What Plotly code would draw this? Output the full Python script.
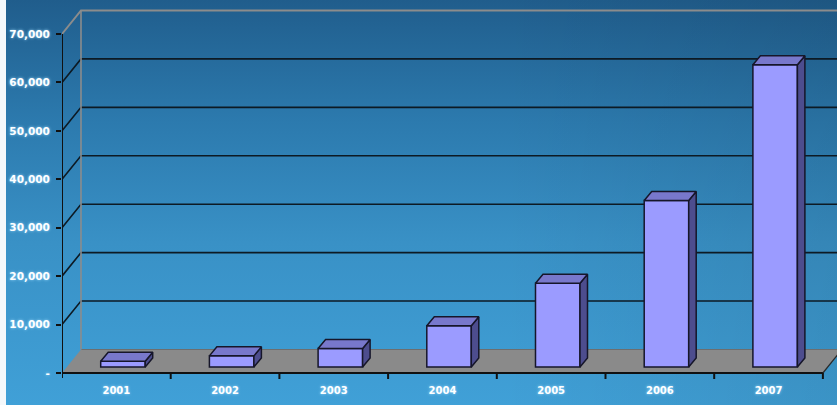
import base64
import plotly.graph_objects as go

# ---------------- data ----------------
years = ["2001", "2002", "2003", "2004", "2005", "2006", "2007"]
values = [1200, 2300, 3800, 8500, 17300, 34400, 62400]
ytick_vals = [0, 10000, 20000, 30000, 40000, 50000, 60000, 70000]
ytick_text = ["-", "10,000", "20,000", "30,000", "40,000", "50,000", "60,000", "70,000"]

# ---------------- geometry (pixel-based styling constants) ----------------
W, H = 837, 405
ML, MR, MT, MB = 62, 0, 3, 22
CAT_PX = 108.7                 # pixels per category
UNIT_PER_PX = 10000 / 48.43    # value units per pixel
ZERO_PX = 373                  # pixel row of value 0 on the front plane

def px_x(p):
    return p / CAT_PX

def px_y(p):
    return p * UNIT_PER_PX

DX, DY = px_x(19), px_y(23.5)            # wall depth
BXS, BY = px_x(6.6), px_y(6)             # bar front offset inside the floor
BDX, BDY = px_x(7.5), px_y(9)            # bar depth
BW = px_x(44.5)                          # bar width
N = len(years)

plot_w = W - ML - MR
plot_h = H - MT - MB
x_range = [0, plot_w / CAT_PX]
y_range = [-(H - MB - ZERO_PX) * UNIT_PER_PX, (ZERO_PX - MT) * UNIT_PER_PX]

# ---------------- background gradient ----------------
svg = (
    f'<svg xmlns="http://www.w3.org/2000/svg" width="{W}" height="{H}" '
    f'viewBox="0 0 {W} {H}" preserveAspectRatio="none">'
    '<defs><linearGradient id="g" x1="0" y1="0" x2="0" y2="1">'
    '<stop offset="0" stop-color="#205d8c"/>'
    '<stop offset="0.3" stop-color="#2c7aae"/>'
    '<stop offset="0.6" stop-color="#3991c6"/>'
    '<stop offset="1" stop-color="#40a0d7"/>'
    '</linearGradient>'
    '<linearGradient id="h" x1="0" y1="0" x2="1" y2="0">'
    '<stop offset="0" stop-color="#000" stop-opacity="0"/>'
    '<stop offset="0.6" stop-color="#000" stop-opacity="0"/>'
    '<stop offset="1" stop-color="#000" stop-opacity="0.08"/>'
    '</linearGradient></defs>'
    f'<rect width="{W}" height="{H}" fill="url(#g)"/>'
    f'<rect width="{W}" height="{H}" fill="url(#h)"/>'
    f'<rect width="6" height="{H}" fill="#f4f8fb"/>'
    '</svg>'
)
bg_uri = "data:image/svg+xml;base64," + base64.b64encode(svg.encode()).decode()

# ---------------- shapes (walls, floor, axes) ----------------
shapes = []
# floor
shapes.append(dict(
    type="path", xref="x", yref="y", layer="below",
    path=f"M 0,0 L {N},0 L {N + DX},{DY} L {DX},{DY} Z",
    fillcolor="#8a8a8a", line=dict(width=0)))
shapes.append(dict(type="line", xref="x", yref="y", layer="below",
                   x0=N, y0=0, x1=N + DX, y1=DY, line=dict(color="#2a2a2a", width=1.2)))
shapes.append(dict(type="line", xref="x", yref="y", layer="below",
                   x0=DX, y0=DY, x1=N + 1, y1=DY, line=dict(color="#6e6e6e", width=1)))
# gridlines on side and back wall
for v in ytick_vals[1:]:
    top = v == ytick_vals[-1]
    shapes.append(dict(
        type="path", xref="x", yref="y", layer="below",
        path=f"M 0,{v} L {DX},{v + DY} L {N + 1},{v + DY}",
        line=dict(color="#8c8c8c" if top else "#0d1a24", width=2 if top else 1.6)))
# back wall left edge
shapes.append(dict(type="line", xref="x", yref="y", layer="below",
                   x0=DX, y0=DY, x1=DX, y1=ytick_vals[-1] + DY,
                   line=dict(color="#8c8c8c", width=1.6)))
# front y axis line
shapes.append(dict(type="line", xref="x", yref="y", layer="below",
                   x0=0, y0=-px_y(5), x1=0, y1=ytick_vals[-1],
                   line=dict(color="#111111", width=2)))
# x axis line + boundary ticks
shapes.append(dict(type="line", xref="x", yref="y", layer="below",
                   x0=0, y0=0, x1=N, y1=0, line=dict(color="#111111", width=2)))
for k in range(1, N + 1):
    shapes.append(dict(type="line", xref="x", yref="y", layer="below",
                       x0=k, y0=0, x1=k, y1=-px_y(6),
                       line=dict(color="#111111", width=2)))

# ---------------- bars ----------------
xc = [i + 0.5 + BXS for i in range(N)]
OUT = "#16162a"

fig = go.Figure()
fig.add_trace(go.Bar(
    x=xc, y=values, base=BY, width=BW,
    marker=dict(color="#9b9bff", line=dict(color=OUT, width=1.5)),
    hoverinfo="skip", showlegend=False))

top_x, top_y, side_x, side_y = [], [], [], []
for c, v in zip(xc, values):
    x0, x1 = c - BW / 2, c + BW / 2
    yb, yt = BY, BY + v
    top_x += [x0, x0 + BDX, x1 + BDX, x1, x0, None]
    top_y += [yt, yt + BDY, yt + BDY, yt, yt, None]
    side_x += [x1, x1 + BDX, x1 + BDX, x1, x1, None]
    side_y += [yb, yb + BDY, yt + BDY, yt, yb, None]

fig.add_trace(go.Scatter(x=side_x, y=side_y, mode="lines", fill="toself",
                         fillcolor="#4d4d8e", line=dict(color=OUT, width=1.5),
                         hoverinfo="skip", showlegend=False))
fig.add_trace(go.Scatter(x=top_x, y=top_y, mode="lines", fill="toself",
                         fillcolor="#7878cc", line=dict(color=OUT, width=1.5),
                         hoverinfo="skip", showlegend=False))

label_font = dict(family="DejaVu Sans", color="#ffffff", weight="bold",
                  shadow="0px 0px 3px #9edbff")

fig.update_layout(
    width=W, height=H,
    margin=dict(l=ML, r=MR, t=MT, b=MB, pad=0),
    paper_bgcolor="rgba(0,0,0,0)", plot_bgcolor="rgba(0,0,0,0)",
    showlegend=False, hovermode=False,
    shapes=shapes,
    images=[dict(source=bg_uri, xref="paper", yref="paper",
                 x=-ML / plot_w, y=1 + MT / plot_h,
                 sizex=W / plot_w, sizey=H / plot_h,
                 xanchor="left", yanchor="top", sizing="stretch", layer="below")],
    xaxis=dict(range=x_range, showgrid=False, zeroline=False, showline=False,
               tickmode="array", tickvals=[i + 0.5 for i in range(N)], ticktext=years,
               ticks="", tickfont=dict(size=10, **label_font), fixedrange=True),
    yaxis=dict(range=y_range, showgrid=False, zeroline=False, showline=False,
               tickmode="array", tickvals=ytick_vals, ticktext=ytick_text,
               ticks="outside", ticklen=5, tickwidth=2, tickcolor="#111111",
               ticklabelstandoff=4,
               tickfont=dict(size=10.5, **label_font), fixedrange=True),
)

fig.write_html("out.html")
